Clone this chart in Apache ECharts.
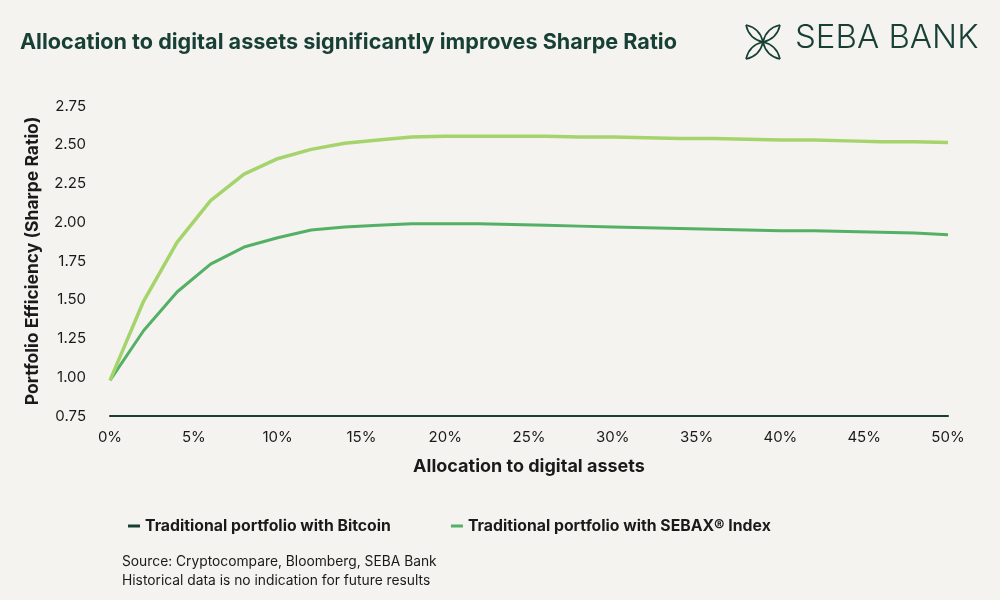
<!DOCTYPE html>
<html>
<head>
<meta charset="utf-8">
<script src="https://cdn.jsdelivr.net/npm/echarts@6/dist/echarts.min.js"></script>
<style>
  html, body { margin: 0; padding: 0; background: #f4f3ef; }
  #chart { width: 1000px; height: 600px; }
</style>
</head>
<body>
<div id="chart"></div>
<script>
// allocation in %, one point every 2%
const allocation = [0, 2, 4, 6, 8, 10, 12, 14, 16, 18, 20, 22, 24, 26, 28, 30, 32, 34, 36, 38, 40, 42, 44, 46, 48, 50]
const bitcoin = [0.98, 1.49, 1.87, 2.14, 2.31, 2.41, 2.47, 2.51, 2.53, 2.55, 2.555, 2.555, 2.555, 2.555, 2.55, 2.55, 2.545, 2.54, 2.54, 2.535, 2.53, 2.53, 2.525, 2.52, 2.52, 2.515]
const sebax = [0.98, 1.30, 1.55, 1.73, 1.84, 1.90, 1.95, 1.97, 1.98, 1.99, 1.99, 1.99, 1.985, 1.98, 1.975, 1.97, 1.965, 1.96, 1.955, 1.95, 1.945, 1.945, 1.94, 1.935, 1.93, 1.92]
const seriesNames = ['Traditional portfolio with Bitcoin', 'Traditional portfolio with SEBAX® Index']

const dark = '#173f35'
const font = 'Inter'

function pairs(ys) {
  return allocation.map((x, i) => [x, ys[i]])
}

// one leaf of the logo: two curves from the centre out to the tip
function leaf(rotation) {
  const stroke = { fill: 'none', stroke: dark, lineWidth: 1.6 }
  return {
    type: 'group',
    x: 763,
    y: 42,
    rotation: rotation,
    children: [
      { type: 'bezierCurve', shape: { x1: 0, y1: 0, x2: 17, y2: -17, cpx1: 2, cpy1: -9, cpx2: 8, cpy2: -15 }, style: stroke },
      { type: 'bezierCurve', shape: { x1: 0, y1: 0, x2: 17, y2: -17, cpx1: 9, cpy1: -2, cpx2: 15, cpy2: -8 }, style: stroke }
    ]
  }
}

const chart = echarts.init(document.getElementById('chart'))
chart.setOption({
  backgroundColor: '#f4f3ef',
  textStyle: { fontFamily: font },
  title: {
    text: 'Allocation to digital assets significantly improves Sharpe Ratio',
    left: 15,
    top: 26,
    textStyle: { fontSize: 21.6, fontWeight: 'bold', color: dark, fontFamily: font }
  },
  graphic: [
    {
      type: 'text', left: 795, top: 22,
      style: { text: 'SEBA BANK', fontSize: 33, fontWeight: 300, fill: dark, fontFamily: font }
    },
    leaf(0),
    leaf(Math.PI / 2),
    leaf(Math.PI),
    leaf(-Math.PI / 2),
    {
      type: 'text', left: 122, top: 552,
      style: {
        text: 'Source: Cryptocompare, Bloomberg, SEBA Bank\nHistorical data is no indication for future results',
        fontSize: 13.8, lineHeight: 19, fill: '#1a1a1a', fontFamily: font
      }
    }
  ],
  grid: { left: 110, right: 52, top: 106, bottom: 184 },
  legend: {
    top: 513,
    left: 123,
    itemGap: 60,
    icon: 'rect',
    itemWidth: 12,
    itemHeight: 3,
    textStyle: { fontSize: 15.8, fontWeight: 'bold', color: '#1a1a1a', fontFamily: font },
    data: [
      { name: seriesNames[0], itemStyle: { color: dark } },
      { name: seriesNames[1], itemStyle: { color: '#53b065' } }
    ]
  },
  xAxis: {
    type: 'value',
    min: 0,
    max: 50,
    interval: 5,
    name: 'Allocation to digital assets',
    nameLocation: 'middle',
    nameGap: 42,
    nameTextStyle: { fontSize: 18, fontWeight: 'bold', color: '#1a1a1a' },
    axisLine: { onZero: false, lineStyle: { color: dark, width: 2 } },
    axisTick: { show: false },
    splitLine: { show: false },
    axisLabel: { fontSize: 15, color: '#1a1a1a', margin: 14, formatter: '{value}%' }
  },
  yAxis: {
    type: 'value',
    min: 0.75,
    max: 2.75,
    interval: 0.25,
    name: 'Portfolio Efficiency (Sharpe Ratio)',
    nameLocation: 'middle',
    nameGap: 68,
    nameTextStyle: { fontSize: 17.5, fontWeight: 'bold', color: '#1a1a1a' },
    axisLine: { show: false },
    axisTick: { show: false },
    splitLine: { show: false },
    axisLabel: { fontSize: 15, color: '#1a1a1a', margin: 24, formatter: v => v.toFixed(2) }
  },
  series: [
    {
      name: seriesNames[0],
      type: 'line',
      data: pairs(bitcoin),
      symbol: 'none',
      itemStyle: { color: dark },
      lineStyle: { color: '#a6d46c', width: 3.5 },
      z: 3
    },
    {
      name: seriesNames[1],
      type: 'line',
      data: pairs(sebax),
      symbol: 'none',
      itemStyle: { color: '#53b065' },
      lineStyle: { color: '#53b065', width: 3 },
      z: 2
    }
  ]
})
</script>
</body>
</html>
